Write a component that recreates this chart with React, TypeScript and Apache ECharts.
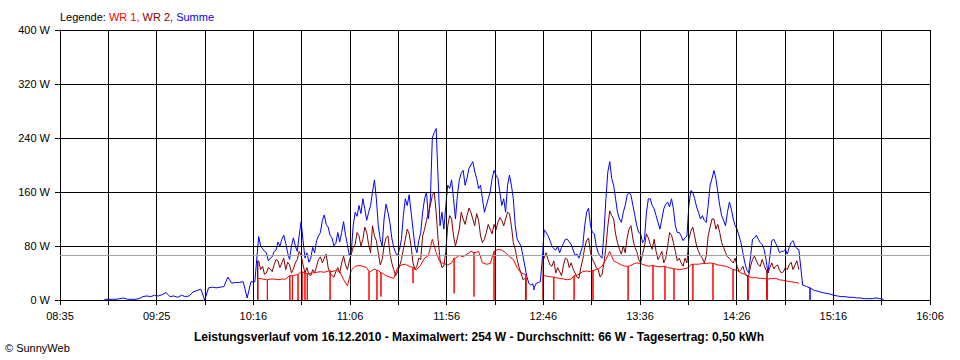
import React, { useEffect, useRef } from "react";
import * as echarts from "echarts";

// ---- axis ----
const xTickLabels = ["08:35", "09:25", "10:16", "11:06", "11:56", "12:46", "13:36", "14:26", "15:16", "16:06"];
const axisStart = "08:35";
const axisEnd = "16:06";
const yTicks = [0, 80, 160, 240, 320, 400];
const STEP_MIN = 2; // each array holds one reading every 2 minutes

// ---- Summe (blue): readings on even minutes ----
const summeStart = "08:58";
const summe = [
  1, 1, 1, 1, 2, 3, 1, 1, 1, 2,
  5, 6, 5, 7, 6, 8, 11, 5, 6, 4,
  7, 5, 6, 12, 14, 16, 0, 18, 19, 18,
  19, 20, 34, 25, 26, 26, 27, 3, 27, 27,
  94, 76, 70, 62, 72, 86, 90, 84, 60, 92,
  72, 116, 62, 56, 78, 88, 100, 126, 108, 92,
  84, 86, 116, 82, 72, 130, 140, 150, 118, 140,
  178, 110, 80, 142, 115, 78, 66, 90, 150, 156,
  105, 70, 100, 150, 120, 240, 254, 110, 105, 170,
  178, 120, 178, 192, 180, 200, 190, 165, 150, 140,
  160, 192, 180, 140, 130, 185, 150, 90, 80, 50,
  25, 24, 25, 27, 104, 95, 80, 74, 70, 84,
  90, 82, 66, 62, 80, 130, 110, 98, 70, 62,
  150, 205, 170, 130, 115, 140, 160, 140, 110, 98,
  90, 150, 140, 125, 105, 135, 145, 150, 110, 100,
  88, 95, 162, 150, 130, 125, 115, 170, 192, 160,
  125, 110, 145, 120, 105, 85, 55, 40, 90, 96,
  85, 75, 40, 88, 84, 70, 72, 68, 85, 80,
  75, 22, 20, 18, 14, 13, 11, 10, 9, 7,
  6, 5, 5, 4, 4, 3, 3, 2, 2, 2,
  3, 2, 1,
];
// readings on the odd minutes in between (other edge of the noise band)
const summeOddStart = "10:19";
const summeOdd = [
  80, 72, 58, 64, 74, 80, 96, 70, 80, 80,
  96, 88, 70, 62, 70, 95, 118, 112, 96, 80,
  100, 100, 96, 66, 110, 124, 128, 135, 130, 160,
  150, 90, 120, 130, 92, 70, 75, 125, 140, 130,
  80, 88, 130, 160, 150, 248, 180, 130, 140, 165,
  150, 155, 188, 170, 195, 205, 180, 170, 130, 150,
  180, 185, 160, 150, 170, 170, 110, 85, 65, 35,
  22, 18, 26, 60, 100, 88, 76, 80, 78, 90,
  86, 74, 68, 72, 110, 136, 100, 80, 65, 100,
  190, 180, 150, 120, 130, 155, 155, 125, 100, 85,
  130, 150, 135, 115, 120, 142, 138, 135, 100, 95,
  92, 140, 160, 138, 120, 118, 140, 180, 180, 140,
  118, 130, 135, 110, 95, 70, 45, 65, 92, 90,
  82, 60, 65, 90, 78, 72, 75, 78, 88, 76,
];
const summeDrops: [string, number][] = [
  ["12:40:42", 15],
  ["15:03:48", 0],
];

// ---- WR 2 (dark red) ----
const wr2StartA = "10:18";
const wr2A = [
  58, 50, 40, 46, 52, 58, 55, 45, 52, 46,
  60, 66, 40, 38, 45, 50, 64, 62, 48, 36,
  42, 40, 65, 45, 68, 82, 95, 90, 100, 70,
  95, 70, 60, 92, 70, 45, 42, 60, 90, 98,
  55, 50, 60, 105, 130, 155, 130, 60, 50, 110,
  120, 80, 105, 120, 125, 130, 110, 118, 85, 100,
  105, 112, 115, 118, 120, 128, 85, 60, 40, 32,
];
const wr2OddStartA = "10:19";
const wr2OddA = [
  45, 38, 48, 42, 60, 48, 62, 56, 40, 55,
  72, 52, 48, 36, 40, 60, 55, 68, 40, 34,
  48, 55, 52, 58, 78, 100, 80, 108, 82, 110,
  88, 52, 80, 95, 55, 36, 50, 75, 105, 80,
  45, 62, 95, 118, 140, 160, 90, 48, 72, 125,
  95, 92, 130, 112, 136, 120, 128, 95, 90, 112,
  98, 104, 122, 110, 130, 110, 75, 48, 30,
];
const wr2StartB = "12:46";
const wr2B = [
  62, 60, 50, 40, 42, 52, 60, 55, 40, 32,
  60, 88, 70, 55, 45, 38, 78, 132, 120, 85,
  68, 70, 105, 90, 72, 55, 80, 92, 75, 72,
  65, 55, 80, 96, 72, 62, 50, 55, 102, 95,
  72, 62, 65, 108, 120, 112, 85, 70, 62, 55,
  50, 45, 40, 36, 60, 58, 50, 52, 40, 55,
  50, 44, 42, 45, 56, 52, 45,
];
const wr2OddStartB = "12:47";
const wr2OddB = [
  70, 52, 58, 48, 36, 62, 48, 46, 34, 48,
  78, 92, 60, 48, 34, 55, 110, 125, 98, 75,
  80, 92, 110, 78, 60, 68, 98, 82, 90, 60,
  72, 62, 100, 85, 58, 55, 62, 90, 108, 80,
  66, 55, 95, 120, 105, 100, 78, 64, 58, 62,
  42, 50, 36, 50, 65, 52, 60, 44, 48, 46,
  52, 40, 48, 52, 45, 58,
];
const wr2Drops: [string, number][] = [
  ["10:17:30", 0],
  ["12:36:30", 0],
  ["12:45:30", 0],
  ["14:31:30", 0],
  ["14:41:30", 0],
  ["14:59:54", 0],
];

// ---- WR 1 (red) ----
const wr1StartA = "10:18";
const wr1A = [
  32, 31, 30, 31, 31, 30, 31, 31, 36, 36,
  38, 42, 40, 39, 40, 41, 42, 41, 43, 42,
  44, 42, 30, 21, 44, 50, 51, 50, 48, 42,
  46, 44, 40, 36, 34, 32, 48, 52, 53, 50,
  48, 45, 52, 62, 66, 90, 70, 56, 54, 52,
  55, 62, 66, 64, 68, 72, 70, 72, 55, 53,
  54, 72, 75, 74, 70, 64, 60, 48, 40, 38,
];
const wr1StartB = "12:46";
const wr1B = [
  36, 35, 34, 33, 32, 31, 30, 31, 36, 38,
  42, 43, 42, 44, 46, 50, 60, 72, 58, 55,
  52, 50, 50, 53, 55, 54, 52, 50, 51, 50,
  49, 50, 48, 47, 46, 45, 46, 47, 52, 53,
  53, 54, 54, 55, 54, 52, 51, 50, 48, 45,
  44, 40, 38, 35, 33, 33, 32, 32, 31, 32,
  32, 30, 29, 28, 27, 26, 25,
];
const wr1Drops: [string, number][] = [
  ["10:17:30", 0], ["10:22:30", 0], ["10:34:12", 0], ["10:35:30", 0], ["10:38:24", 0],
  ["10:40:30", 0], ["10:42:00", 0], ["10:43:12", 0], ["10:55:00", 0], ["11:15:12", 0],
  ["11:19:18", 0], ["11:21:24", 5], ["11:38:00", 25], ["11:59:18", 10], ["12:09:36", 5],
  ["12:20:00", 0], ["12:36:30", 0], ["12:45:30", 0], ["12:51:00", 0], ["13:01:30", 0],
  ["13:11:18", 0], ["13:29:30", 0], ["13:42:24", 0], ["13:48:36", 0], ["13:53:18", 0],
  ["14:03:06", 0], ["14:13:30", 0], ["14:23:54", 0], ["14:31:42", 0], ["14:41:30", 0],
  ["14:59:54", 0],
];

const averageW = 66;
const legendText = ["Legende: ", "WR 1, ", "WR 2, ", "Summe"];
const titleText =
  "Leistungsverlauf vom 16.12.2010 - Maximalwert: 254 W - Durchschnitt: 66 W - Tagesertrag: 0,50 kWh";
const copyrightText = "\u00A9 SunnyWeb";

// ---- helpers ----
function toMin(s: string): number {
  const p = s.split(":").map(Number);
  return p[0] * 60 + p[1] + (p[2] || 0) / 60;
}
const AX0 = toMin(axisStart);
const AX1 = toMin(axisEnd);
const DIV = (xTickLabels.length - 1) * 2;
const toU = (m: number) => ((m - AX0) * DIV) / (AX1 - AX0);

function buildPoints(
  parts: [string, number[]][],
  drops: [string, number][]
): number[][] {
  const base: [number, number][] = [];
  for (const [start, values] of parts) {
    const t0 = toMin(start);
    values.forEach((v, i) => base.push([t0 + i * STEP_MIN, v]));
  }
  base.sort((a, b) => a[0] - b[0]);
  const first = base[0][0];
  const last = base[base.length - 1][0];
  const pts: [number, number][] = base.slice();
  for (const [s, d] of drops) {
    const t = toMin(s);
    if (t < first - 1 || t > last + 1) continue;
    let best = base[0];
    for (const p of base) if (Math.abs(p[0] - t) < Math.abs(best[0] - t)) best = p;
    pts.push([t, best[1]], [t, d], [t, best[1]]);
  }
  pts.sort((a, b) => a[0] - b[0]);
  return pts.map(([m, v]) => [toU(m), v]);
}

const FONT = "'Liberation Sans', Arial, sans-serif";

export default function App() {
  const ref = useRef<HTMLDivElement>(null);
  useEffect(() => {
    if (!ref.current) return;
    const chart = echarts.init(ref.current, null, { renderer: "svg" });
    const lineBase = (name: string, color: string, data: number[][], z: number) => ({
      name,
      type: "line",
      data,
      showSymbol: false,
      symbol: "none",
      z,
      lineStyle: { color, width: 1 },
      itemStyle: { color },
      emphasis: { disabled: true },
    });
    chart.setOption({
      animation: false,
      backgroundColor: "#ffffff",
      textStyle: { fontFamily: FONT },
      grid: { left: 60, right: 30, top: 30, bottom: 60 },
      xAxis: {
        type: "value",
        min: 0,
        max: DIV,
        interval: 1,
        z: 4,
        axisLine: { show: true, lineStyle: { color: "#000", width: 1 } },
        axisTick: { show: true, length: 5, lineStyle: { color: "#000" } },
        splitLine: { show: true, lineStyle: { color: "#000", width: 1 } },
        axisLabel: {
          color: "#000",
          fontSize: 11,
          fontFamily: FONT,
          margin: 10,
          showMinLabel: true,
          showMaxLabel: true,
          formatter: (v: number) => {
            const i = Math.round(v);
            return i % 2 === 0 ? xTickLabels[i / 2] : "";
          },
        },
      },
      yAxis: {
        type: "value",
        min: yTicks[0],
        max: yTicks[yTicks.length - 1],
        interval: yTicks[1] - yTicks[0],
        z: 4,
        axisLine: { show: true, lineStyle: { color: "#000", width: 1 } },
        axisTick: { show: true, length: 5, lineStyle: { color: "#000" } },
        splitLine: { show: true, lineStyle: { color: "#000", width: 1 } },
        axisLabel: { color: "#000", fontSize: 11, fontFamily: FONT, margin: 10, formatter: "{value} W" },
      },
      series: [
        lineBase(
          "Summe",
          "#0000ff",
          buildPoints([[summeStart, summe], [summeOddStart, summeOdd]], summeDrops),
          2
        ),
        lineBase(
          "WR 2",
          "#800000",
          buildPoints([[wr2StartA, wr2A], [wr2OddStartA, wr2OddA]], wr2Drops),
          2
        ),
        lineBase(
          "WR 2",
          "#800000",
          buildPoints([[wr2StartB, wr2B], [wr2OddStartB, wr2OddB]], wr2Drops),
          2
        ),
        lineBase("WR 1", "#ff0000", buildPoints([[wr1StartA, wr1A]], wr1Drops), 2),
        lineBase("WR 1", "#ff0000", buildPoints([[wr1StartB, wr1B]], wr1Drops), 2),
        {
          name: "Durchschnitt",
          type: "line",
          data: [[0, averageW], [DIV, averageW]],
          symbol: "none",
          z: 5,
          lineStyle: { color: "#a0a0a0", width: 1 },
          emphasis: { disabled: true },
        },
      ],
      graphic: [
        {
          type: "text",
          x: 60,
          y: 17,
          style: {
            text: `{k|${legendText[0]}}{a|${legendText[1]}}{b|${legendText[2]}}{c|${legendText[3]}}`,
            font: `11px ${FONT}`,
            verticalAlign: "middle",
            rich: {
              k: { fill: "#000", fontSize: 11, fontFamily: FONT },
              a: { fill: "#ff0000", fontSize: 11, fontFamily: FONT },
              b: { fill: "#800000", fontSize: 11, fontFamily: FONT },
              c: { fill: "#0000ff", fontSize: 11, fontFamily: FONT },
            },
          },
        },
        {
          type: "text",
          x: 479,
          y: 337,
          style: {
            text: titleText,
            font: `bold 12px ${FONT}`,
            fill: "#000",
            textAlign: "center",
            verticalAlign: "middle",
          },
        },
        {
          type: "text",
          x: 5,
          y: 348,
          style: {
            text: copyrightText,
            font: `11px ${FONT}`,
            fill: "#000",
            verticalAlign: "middle",
          },
        },
      ],
    });
    return () => chart.dispose();
  }, []);
  return (
    <div
      ref={ref}
      style={{ position: "fixed", left: 0, top: 0, width: 960, height: 360, background: "#fff" }}
    />
  );
}
